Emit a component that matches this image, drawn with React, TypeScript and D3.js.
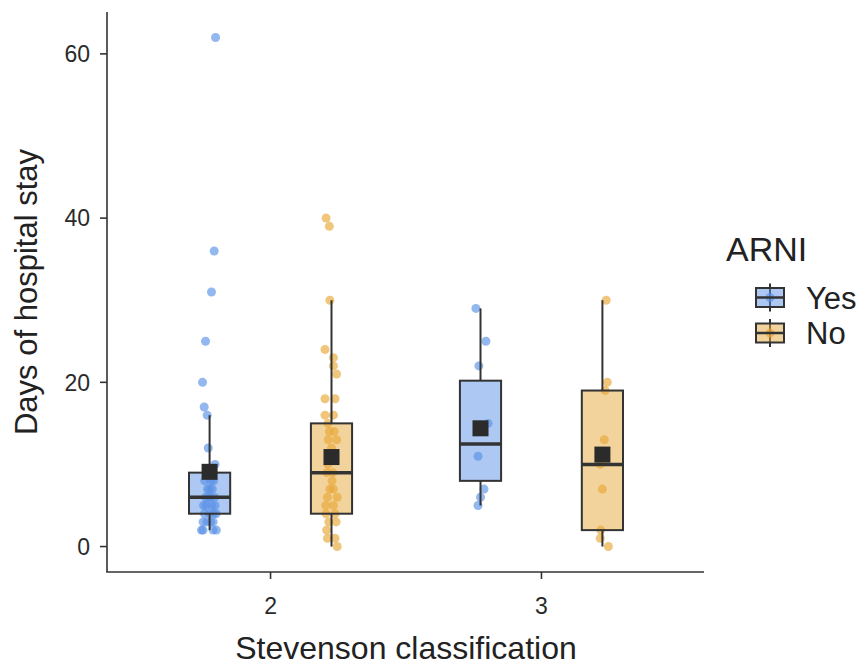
import React from "react";
import * as d3 from "d3";

// ---------- data ----------
const categories = ["2", "3"];
const groups = ["Yes", "No"];
const yTicks = [0, 20, 40, 60];

// box statistics per [category][group]
const boxLow = [[2, 0], [5, 0]];
const boxQ1 = [[4, 4], [8, 2]];
const boxMedian = [[6, 9], [12.5, 10]];
const boxQ3 = [[9, 15], [20.2, 19]];
const boxHigh = [[16, 30], [29, 30]];
const boxMean = [[9.1, 10.9], [14.4, 11.2]];

// raw observations (value) with read-off horizontal jitter (category units)
const yes2Values = [62, 36, 31, 25, 20, 17, 16, 12, 10, 9, 9, 8, 8, 8, 7, 7, 7, 6, 6, 6, 6, 5, 5, 5, 5, 4, 4, 4, 4, 3, 3, 3, 3, 2, 2, 2, 2];
const yes2Jitter = [0.022, 0.017, 0.007, -0.015, -0.026, -0.02, -0.009, -0.005, 0.02, -0.01, 0.012, 0.005, -0.018, 0.015, -0.008, 0.01, 0.0, -0.015, 0.018, 0.003, -0.004, 0.008, -0.012, 0.02, -0.022, 0.0, 0.014, -0.019, 0.024, -0.024, 0.004, 0.013, -0.01, -0.03, -0.024, 0.013, 0.025];
const no2Values = [40, 39, 30, 24, 23, 22, 21, 18, 18, 16, 16, 15, 14, 14, 13, 13, 12, 11, 10, 9, 9, 8, 7, 7, 6, 6, 5, 5, 4, 4, 3, 3, 2, 1, 1, 0];
const no2Jitter = [-0.02, -0.008, -0.006, -0.024, 0.007, 0.007, 0.019, -0.024, 0.013, -0.024, 0.007, -0.013, -0.008, 0.01, -0.012, 0.019, 0.0, 0.009, -0.013, 0.005, -0.017, 0.002, 0.007, -0.006, 0.021, -0.015, 0.007, -0.021, -0.02, 0.013, 0.017, -0.01, -0.018, 0.013, -0.015, 0.021];
const yes3Values = [29, 25, 22, 15, 11, 7, 6, 5];
const yes3Jitter = [-0.017, 0.02, -0.006, 0.028, -0.009, 0.013, 0.0, -0.009];
const no3Values = [30, 20, 19, 13, 10, 7, 2, 1, 0];
const no3Jitter = [0.014, 0.018, 0.01, 0.007, -0.008, 0.0, -0.006, -0.008, 0.022];

const pointValues = [[yes2Values, no2Values], [yes3Values, no3Values]];
const pointJitter = [[yes2Jitter, no2Jitter], [yes3Jitter, no3Jitter]];

const groupColors = ["#5B91E6", "#E8A83A"];

// ---------- layout ----------
const W = 865;
const H = 667;
const FONT = "'Liberation Sans', Arial, Helvetica, sans-serif";
const dodge = 0.225;
const boxHalf = 0.076;

export default function App() {
  const x = d3.scaleLinear().domain([0.4, 2.6]).range([108, 704]);
  const y = d3.scaleLinear().domain([-3.1, 65.1]).range([572, 12]);
  const groupOffset = (g: number) => (g === 0 ? -dodge : dodge);

  const marks: React.ReactNode[] = [];
  // points first (under boxes)
  categories.forEach((_, ci) => {
    groups.forEach((_, gi) => {
      const vals = pointValues[ci][gi];
      const jit = pointJitter[ci][gi];
      vals.forEach((v, i) => {
        marks.push(
          <circle
            key={`p-${ci}-${gi}-${i}`}
            cx={x(ci + 1 + groupOffset(gi) + jit[i])}
            cy={y(v)}
            r={4.5}
            fill={groupColors[gi]}
            fillOpacity={0.66}
          />
        );
      });
    });
  });

  // boxes
  categories.forEach((_, ci) => {
    groups.forEach((_, gi) => {
      const c = ci + 1 + groupOffset(gi);
      const x0 = x(c - boxHalf);
      const x1 = x(c + boxHalf);
      const xc = x(c);
      marks.push(
        <g key={`b-${ci}-${gi}`}>
          <line x1={xc} x2={xc} y1={y(boxQ3[ci][gi])} y2={y(boxHigh[ci][gi])} stroke="#333" strokeWidth={2} />
          <line x1={xc} x2={xc} y1={y(boxQ1[ci][gi])} y2={y(boxLow[ci][gi])} stroke="#333" strokeWidth={2} />
          <rect
            x={x0}
            y={y(boxQ3[ci][gi])}
            width={x1 - x0}
            height={y(boxQ1[ci][gi]) - y(boxQ3[ci][gi])}
            fill={groupColors[gi]}
            fillOpacity={0.5}
            stroke="#333"
            strokeWidth={2}
          />
          <line x1={x0} x2={x1} y1={y(boxMedian[ci][gi])} y2={y(boxMedian[ci][gi])} stroke="#333" strokeWidth={3.5} />
        </g>
      );
    });
  });

  // means
  categories.forEach((_, ci) => {
    groups.forEach((_, gi) => {
      const c = ci + 1 + groupOffset(gi);
      const s = 16;
      marks.push(
        <rect
          key={`m-${ci}-${gi}`}
          x={x(c) - s / 2}
          y={y(boxMean[ci][gi]) - s / 2}
          width={s}
          height={s}
          fill="#2b2b2b"
        />
      );
    });
  });

  const [xr0, xr1] = x.range();
  const [yr0, yr1] = y.range();

  return (
    <svg width={W} height={H} style={{ position: "absolute", left: 0, top: 0, background: "#fff" }} fontFamily={FONT}>
      <rect x={0} y={0} width={W} height={H} fill="#fff" />
      {marks}
      {/* axes */}
      <line x1={xr0 - 1} x2={xr0 - 1} y1={yr1} y2={yr0} stroke="#333" strokeWidth={1.6} />
      <line x1={xr0 - 1.8} x2={xr1} y1={yr0} y2={yr0} stroke="#333" strokeWidth={1.6} />
      {yTicks.map((t) => (
        <g key={`yt-${t}`}>
          <line x1={xr0 - 8} x2={xr0 - 1} y1={y(t)} y2={y(t)} stroke="#333" strokeWidth={1.6} />
          <text x={xr0 - 18} y={y(t)} dy="0.36em" textAnchor="end" fontSize={23} fill="#2a2a2a">
            {t}
          </text>
        </g>
      ))}
      {categories.map((c, ci) => (
        <g key={`xt-${c}`}>
          <line x1={x(ci + 1)} x2={x(ci + 1)} y1={yr0} y2={yr0 + 7} stroke="#333" strokeWidth={1.6} />
          <text x={x(ci + 1)} y={yr0 + 42} textAnchor="middle" fontSize={23} fill="#2a2a2a">
            {c}
          </text>
        </g>
      ))}
      <text x={(xr0 + xr1) / 2} y={659} textAnchor="middle" fontSize={32} fill="#222">
        Stevenson classification
      </text>
      <text
        transform={`translate(37, ${(yr0 + yr1) / 2}) rotate(-90)`}
        textAnchor="middle"
        fontSize={31}
        fill="#222"
      >
        Days of hospital stay
      </text>
      {/* legend */}
      <text x={726} y={261} fontSize={34} fill="#222">
        ARNI
      </text>
      {groups.map((g, gi) => {
        const cy = 297.5 + gi * 35.5;
        const kx0 = 756;
        const kx1 = 784;
        const kc = (kx0 + kx1) / 2;
        return (
          <g key={`lg-${g}`}>
            <line x1={kc} x2={kc} y1={cy - 14} y2={cy + 14} stroke="#333" strokeWidth={2} />
            <circle cx={kc} cy={cy} r={4.5} fill={groupColors[gi]} fillOpacity={0.66} />
            <rect x={kx0} y={cy - 9.5} width={kx1 - kx0} height={19} fill={groupColors[gi]} fillOpacity={0.5} stroke="#333" strokeWidth={2} />
            <line x1={kx0} x2={kx1} y1={cy} y2={cy} stroke="#333" strokeWidth={2.5} />
            <text x={806} y={cy} dy="0.36em" fontSize={31} fill="#222">
              {g}
            </text>
          </g>
        );
      })}
    </svg>
  );
}
